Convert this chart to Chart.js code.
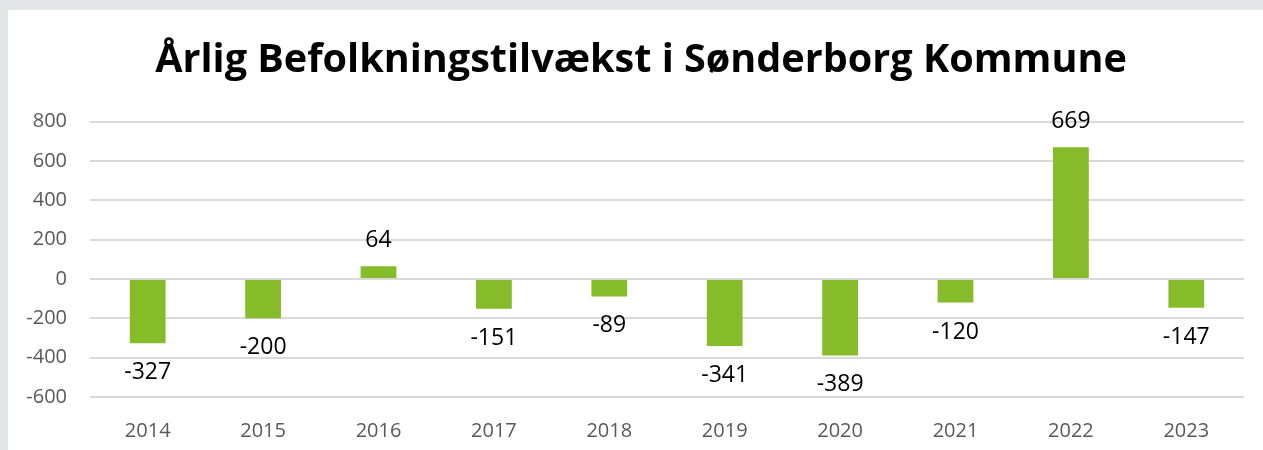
<!DOCTYPE html>
<html>
<head>
<meta charset="utf-8">
<script src="https://cdn.jsdelivr.net/npm/chart.js@4/dist/chart.umd.min.js"></script>
<style>
  html, body { margin: 0; padding: 0; background: #e4e5e7; }
  #boks { position: absolute; left: 8px; top: 10px; width: 1255px; height: 440px; background: #ffffff; }
</style>
</head>
<body>
<div id="boks"><canvas id="grafico" width="1255" height="440"></canvas></div>
<script>
// data
const aar = ['2014', '2015', '2016', '2017', '2018', '2019', '2020', '2021', '2022', '2023'];
const tilvaekst = [-327, -200, 64, -151, -89, -341, -389, -120, 669, -147];
const yTicks = [-600, -400, -200, 0, 200, 400, 600, 800];

const fonte = "'Open Sans', 'Noto Sans', sans-serif";

// tal over/under søjlerne
const etiketter = {
    id: 'etiketter',
    afterDatasetsDraw(chart) {
        const ctx = chart.ctx;
        const meta = chart.getDatasetMeta(0);
        ctx.save();
        ctx.font = "23px " + fonte;
        ctx.fillStyle = '#000000';
        ctx.textAlign = 'center';
        ctx.textBaseline = 'alphabetic';
        meta.data.forEach((bar, i) => {
            const v = tilvaekst[i];
            if (v >= 0) {
                ctx.fillText(String(v), bar.x, bar.y - 19);
            } else {
                ctx.fillText(String(v), bar.x, bar.y + 36);
            }
        });
        ctx.restore();
    }
};

const ctx = document.getElementById('grafico').getContext('2d');
let grafico = new Chart(ctx, {
    type: 'bar',
    data: {
        labels: aar,
        datasets: [{
            data: tilvaekst,
            backgroundColor: '#86bc29',
            categoryPercentage: 1,
            barPercentage: 0.31
        }]
    },
    options: {
        responsive: false,
        animation: false,
        layout: { padding: { left: 12, right: 1, top: 0, bottom: 0 } },
        plugins: {
            legend: { display: false },
            tooltip: { enabled: false },
            title: {
                display: true,
                text: 'Årlig Befolkningstilvækst i Sønderborg Kommune',
                color: '#000000',
                font: { family: fonte, size: 39.6, weight: 'bold' },
                padding: { top: 27, bottom: 37 }
            }
        },
        scales: {
            x: {
                grid: { display: false, drawTicks: false },
                border: { display: false },
                ticks: { color: '#595959', font: { family: fonte, size: 20 }, padding: 22 },
                afterFit(axis) { axis.height = 53; }
            },
            y: {
                min: -600,
                max: 800,
                afterBuildTicks(axis) {
                    axis.ticks = yTicks.map(v => ({ value: v }));
                },
                grid: { color: '#d9d9d9', lineWidth: 2, drawTicks: false },
                border: { display: false },
                ticks: { color: '#595959', font: { family: fonte, size: 20 }, padding: 23 },
                afterFit(axis) { axis.width = 70; }
            },
            // tom akse i højre side, kun for luft
            hoejre: {
                type: 'linear',
                position: 'right',
                grid: { display: false, drawTicks: false },
                border: { display: false },
                ticks: { display: false },
                afterFit(axis) { axis.width = 18; }
            }
        }
    },
    plugins: [etiketter]
});
</script>
</body>
</html>
